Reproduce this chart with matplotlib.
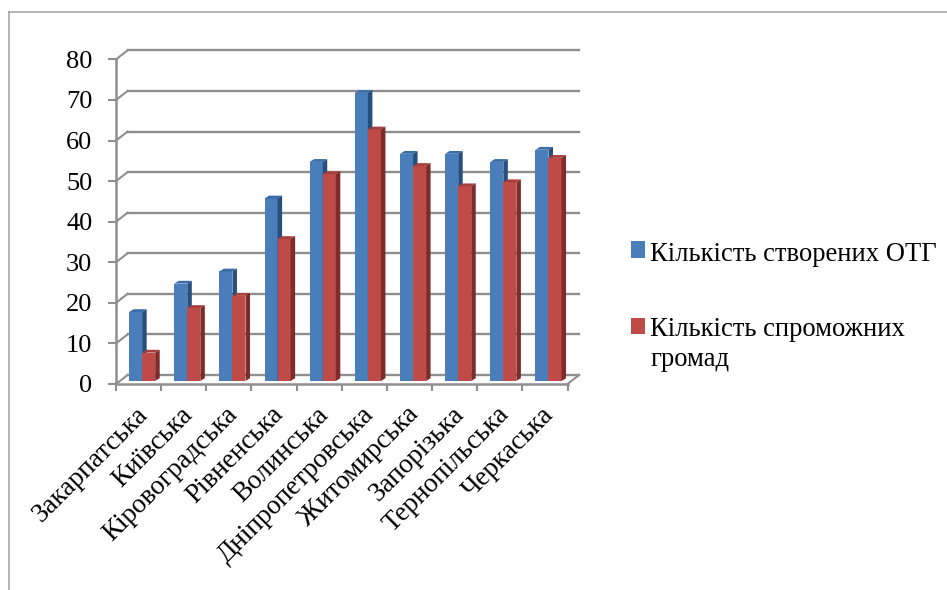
import matplotlib
matplotlib.use("Agg")
import matplotlib.pyplot as plt
from matplotlib.legend_handler import HandlerPatch
from matplotlib.lines import Line2D
from matplotlib.patches import Rectangle
from matplotlib.transforms import Affine2D

plt.rcParams['font.family'] = ['Liberation Serif', 'DejaVu Serif']

# data
regions = ['Закарпатська', 'Київська', 'Кіровоградська', 'Рівненська', 'Волинська',
           'Дніпропетровська', 'Житомирська', 'Запорізька', 'Тернопільська', 'Черкаська']
created = [17, 24, 27, 45, 54, 71, 56, 56, 54, 57]
capable = [7, 18, 21, 35, 51, 62, 53, 48, 49, 55]
y_ticks = [0, 10, 20, 30, 40, 50, 60, 70, 80]
label_created = 'Кількість створених ОТГ'
label_capable = 'Кількість спроможних\nгромад'

W, H = 947, 590
fig = plt.figure(figsize=(W / 100, H / 100), dpi=100)
ax = fig.add_axes([116 / W, (H - 384) / H, 451.5 / W, 324.6 / H])
ax.set_xlim(0, 10)
ax.set_ylim(0, 80)
for s in ax.spines.values():
    s.set_visible(False)
ax.patch.set_visible(False)

grey = '#8f8f8f'
# depth of the fake 3d box, in data units
box_dx = 11.5 / 45
box_dy = 9 / 4.06

# gridlines on back wall + diagonals on left wall
for v in y_ticks:
    ax.plot([box_dx, 10 + box_dx], [v + box_dy, v + box_dy], color=grey, lw=1.7, clip_on=False, zorder=1)
    ax.plot([0, box_dx], [v, v + box_dy], color=grey, lw=1.5, clip_on=False, zorder=1)
# floor right edge and front edge
ax.plot([10, 10 + box_dx], [0, box_dy], color=grey, lw=1.5, clip_on=False, zorder=1)
ax.plot([0, 0], [0, 80], color=grey, lw=1.8, clip_on=False, zorder=2)
ax.plot([0, 10], [0, 0], color=grey, lw=1.8, clip_on=False, zorder=2)

# bars sit a little behind the front edge
shift = ax.transData + Affine2D().translate(0, 3)
bar_w = 13 / 45
bar_dx = 4.5 / 45
bar_dy = 2.8 / 4.06


def draw_bars(vals, left, front, top, side, zorder):
    xs = [i + left + bar_w / 2 for i in range(len(vals))]
    bars = ax.bar(xs, vals, bar_w, color=front, transform=shift, zorder=zorder, clip_on=False)
    for x, v in zip(xs, vals):
        x0 = x - bar_w / 2
        x1 = x + bar_w / 2
        ax.fill([x0, x1, x1 + bar_dx, x0 + bar_dx], [v, v, v + bar_dy, v + bar_dy],
                color=top, transform=shift, zorder=zorder, clip_on=False, lw=0)
        ax.fill([x1, x1 + bar_dx, x1 + bar_dx, x1], [0, bar_dy, v + bar_dy, v],
                color=side, transform=shift, zorder=zorder, clip_on=False, lw=0)
    return bars


b1 = draw_bars(created, 0.29, '#4a7ebb', '#3a6ca5', '#264f80', 3)
b2 = draw_bars(capable, 0.29 + bar_w, '#be4b48', '#a83f3c', '#7e2b29', 4)

ax.set_xticks(range(11))
ax.set_xticklabels([''] * 11)
ax.set_yticks(y_ticks)
ax.set_yticklabels([str(v) for v in y_ticks], fontsize=19, color='black')
ax.tick_params(axis='y', length=6, width=1.5, color=grey, pad=11)
ax.tick_params(axis='x', length=5, width=1.5, color=grey)

# rotated category labels
for i, name in enumerate(regions):
    ax.annotate(name, xy=(i + 0.5, 0), xytext=(-2.5, -13), textcoords='offset points',
                rotation=45, ha='right', va='top', rotation_mode='anchor',
                fontsize=19.5, color='black', annotation_clip=False)


# legend swatches: raised so the red one lines up with the first text line
def swatch(up):
    def make(legend, orig_handle, xdescent, ydescent, width, height, fontsize):
        return Rectangle((-xdescent, -ydescent + up), width, height)
    return HandlerPatch(patch_func=make)


leg = fig.legend([b1[0], b2[0]], [label_created, label_capable],
                 loc='upper left', bbox_to_anchor=(631 / W, 1 - 242 / H), frameon=False,
                 fontsize=19.2, handlelength=0.52, handleheight=0.55, handletextpad=0.2,
                 labelspacing=1.875, borderpad=0, borderaxespad=0,
                 handler_map={b1[0]: swatch(1.5), b2[0]: swatch(13)})
for t in leg.get_texts():
    t.set_linespacing(1.25)

# chart frame, only top and left show
fig.add_artist(Line2D([8.5 / W, 1], [1 - 12 / H, 1 - 12 / H], color='#a0a0a0', lw=1.1))
fig.add_artist(Line2D([8.5 / W, 8.5 / W], [1 - 12 / H, 0], color='#a0a0a0', lw=1.1))

fig.savefig('out.png', dpi=100)
